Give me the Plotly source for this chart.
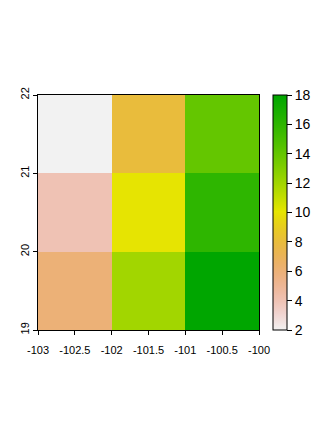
import colorsys
import plotly.graph_objects as go

# Data
x_centers = [-102.5, -101.5, -100.5]
y_centers = [19.5, 20.5, 21.5]
z_values = [
    [6, 12, 18],   # y = 19.5
    [4, 10, 16],   # y = 20.5
    [2, 8, 14],    # y = 21.5
]
x_ticks = [-103, -102.5, -102, -101.5, -101, -100.5, -100]
y_ticks = [19, 20, 21, 22]
cb_ticks = [2, 4, 6, 8, 10, 12, 14, 16, 18]
zmin, zmax = 2, 18


def seq(a, b, n):
    if n == 1:
        return [a]
    return [a + (b - a) * i / (n - 1) for i in range(n)]


def terrain_colors(n):
    k = n // 2
    h = [4 / 12, 2 / 12, 0]
    s = [1, 1, 0]
    v = [0.65, 0.9, 0.95]
    cols = []
    for hh, ss, vv in zip(seq(h[0], h[1], k), seq(s[0], s[1], k), seq(v[0], v[1], k)):
        cols.append(colorsys.hsv_to_rgb(hh, ss, vv))
    m = n - k + 1
    for hh, ss, vv in list(zip(seq(h[1], h[2], m), seq(s[1], s[2], m), seq(v[1], v[2], m)))[1:]:
        cols.append(colorsys.hsv_to_rgb(hh, ss, vv))
    return cols


cols = terrain_colors(255)[::-1]
n = len(cols)
colorscale = [
    [i / (n - 1), "rgb(%d,%d,%d)" % tuple(round(c * 255) for c in col)]
    for i, col in enumerate(cols)
]


def fmt(v):
    return ("%g" % v)


W, H = 336, 426
ml, mr, mt, mb = 38, 77, 95, 96
pw = W - ml - mr
cb_x0 = (273 - ml) / pw
cb_thick = 14
cb_x1 = cb_x0 + cb_thick / pw

fig = go.Figure(
    go.Heatmap(
        x=x_centers,
        y=y_centers,
        z=z_values,
        zmin=zmin,
        zmax=zmax,
        colorscale=colorscale,
        colorbar=dict(
            x=cb_x0,
            xanchor="left",
            y=0.5,
            yanchor="middle",
            len=1,
            lenmode="fraction",
            thickness=cb_thick,
            xpad=0,
            ypad=0,
            outlinecolor="black",
            outlinewidth=1,
            ticks="outside",
            ticklen=5,
            tickcolor="black",
            tickvals=cb_ticks,
            ticktext=[fmt(t) for t in cb_ticks],
            tickfont=dict(family="Liberation Sans, Arial", size=14, color="black"),
        ),
        hoverinfo="skip",
    )
)

shapes = []
for t in cb_ticks[1:-1]:
    yy = (t - zmin) / (zmax - zmin)
    shapes.append(dict(type="line", xref="paper", yref="paper",
                       x0=cb_x0, x1=cb_x1, y0=yy, y1=yy,
                       line=dict(color="black", width=1)))

fig.update_layout(
    width=W,
    height=H,
    margin=dict(l=ml, r=mr, t=mt, b=mb),
    paper_bgcolor="white",
    plot_bgcolor="white",
    shapes=shapes,
    xaxis=dict(
        range=[-103, -100],
        tickvals=x_ticks,
        ticktext=[fmt(t) for t in x_ticks],
        showgrid=False,
        zeroline=False,
        showline=True,
        mirror=True,
        linecolor="black",
        linewidth=1,
        ticks="outside",
        ticklen=4,
        tickcolor="black",
        ticklabelstandoff=6,
        tickfont=dict(family="Liberation Sans, Arial", size=11, color="black"),
    ),
    yaxis=dict(
        range=[19, 22],
        tickvals=y_ticks,
        ticktext=[fmt(t) for t in y_ticks],
        showgrid=False,
        zeroline=False,
        showline=True,
        mirror=True,
        linecolor="black",
        linewidth=1,
        ticks="outside",
        ticklen=4,
        tickcolor="black",
        tickangle=-90,
        tickfont=dict(family="Liberation Sans, Arial", size=11, color="black"),
    ),
)

fig.write_html("out.html")
